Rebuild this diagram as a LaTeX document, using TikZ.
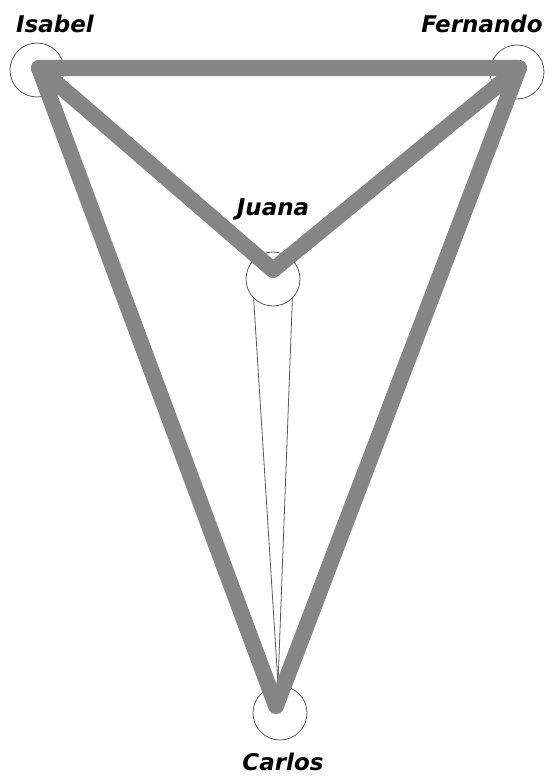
\documentclass[tikz,border=0pt]{standalone}
\usepackage{fontspec}
\newfontfamily\lblfont{DejaVu Sans}[BoldItalicFont={DejaVu Sans Bold Oblique}]
\definecolor{thickgray}{HTML}{858585}
\definecolor{ringgray}{HTML}{5A5A5A}
\tikzset{
  ring/.style={circle, draw=ringgray, line width=0.8pt, minimum size=54pt, inner sep=0pt},
  lbl/.style={font=\lblfont\bfseries\itshape\fontsize{23}{23}\selectfont, anchor=base, inner sep=0pt},
  bond/.style={draw=thickgray, line width=16pt, line join=round, line cap=round},
  thin/.style={draw=ringgray, line width=0.8pt, line join=miter}
}
\begin{document}
\begin{tikzpicture}[x=1pt, y=-1pt]
\useasboundingbox[fill=white] (0,0) rectangle (552,776);
% circles
\node[ring] (isabel) at (37,70) {};
\node[ring] (fernando) at (517,72) {};
\node[ring] (juana) at (273,279) {};
\node[ring] (carlos) at (280,713) {};
% line vertices
\coordinate (vI) at (39,68);
\coordinate (vF) at (519,68);
\coordinate (vJ) at (273,270);
\coordinate (vC) at (276,706);
\coordinate (tip) at (278,684);
% thin wedge Juana -> Carlos
\draw[thin] (juana.-135) -- (tip) -- (juana.-45);
% thick bonds
\draw[bond] (vI) -- (vF) -- (vC) -- cycle;
\draw[bond] (vI) -- (vJ) -- (vF);
% labels
\node[lbl] (tI) at (55,33) {Isabel};
\node[lbl] (tF) at (482,33) {Fernando};
\node[lbl] (tJ) at (273,215) {Juana};
\node[lbl] (tC) at (283,770) {Carlos};
\end{tikzpicture}
\end{document}
